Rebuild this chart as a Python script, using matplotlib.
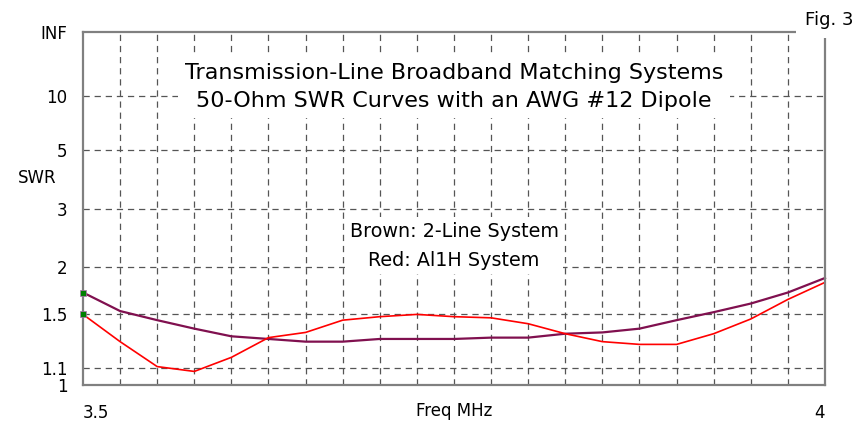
import numpy as np
import matplotlib
matplotlib.use("Agg")
import matplotlib.pyplot as plt

# frequency points, MHz (every 0.025 MHz)
freq = [3.500, 3.525, 3.550, 3.575, 3.600, 3.625, 3.650, 3.675, 3.700, 3.725, 3.750,
        3.775, 3.800, 3.825, 3.850, 3.875, 3.900, 3.925, 3.950, 3.975, 4.000]

# SWR
swr_brown = [1.71, 1.53, 1.45, 1.38, 1.32, 1.30, 1.28, 1.28, 1.30, 1.30, 1.30,
             1.31, 1.31, 1.34, 1.35, 1.38, 1.45, 1.52, 1.60, 1.71, 1.87]
swr_red = [1.50, 1.28, 1.11, 1.08, 1.17, 1.31, 1.35, 1.45, 1.48, 1.50, 1.48,
           1.47, 1.42, 1.34, 1.28, 1.26, 1.26, 1.34, 1.46, 1.64, 1.82]

swr_ticks = [1, 1.1, 1.5, 2, 3, 5, 10]
swr_tick_labels = ["1", "1.1", "1.5", "2", "3", "5", "10", "INF"]
x_tick_labels = {3.5: "3.5", 4.0: "4"}

title_lines = ["Transmission-Line Broadband Matching Systems",
               "50-Ohm SWR Curves with an AWG #12 Dipole"]
legend_lines = ["Brown: 2-Line System", "Red: Al1H System"]


def rho(s):
    # SWR scale is linear in reflection coefficient
    s = np.asarray(s, dtype=float)
    return (s - 1) / (s + 1)


plt.rcParams["font.family"] = "DejaVu Sans"
plt.rcParams["lines.scale_dashes"] = False

fig = plt.figure(figsize=(8.64, 4.24), dpi=100)
ax = fig.add_axes([83 / 864, 1 - 385 / 424, 742 / 864, 353 / 424])

grid_col = "#555555"
dash = (0, (4.5, 3.5))

# grid
xgrid = np.arange(3.5, 4.0001, 0.025)
for xv in xgrid[1:-1]:
    ax.axvline(xv, color=grid_col, lw=0.9, linestyle=dash, zorder=1)
for sv in swr_ticks[1:]:
    ax.axhline(rho(sv), color=grid_col, lw=0.9, linestyle=dash, zorder=1)

ax.plot(freq, rho(swr_brown), color="#80104f", lw=1.6, zorder=3, clip_on=False)
ax.plot(freq, rho(swr_red), color="#ff0000", lw=1.2, zorder=4, clip_on=False)
ax.plot([freq[0], freq[0]], [rho(swr_brown[0]), rho(swr_red[0])], linestyle="none",
        marker="s", ms=5, mfc="#008000", mec="#b070b0", mew=0.5, zorder=8, clip_on=False)

ax.set_xlim(3.5, 4.0)
ax.set_ylim(0, 1)

yt = list(rho(swr_ticks)) + [1.0]
ax.set_yticks(yt)
ax.set_yticklabels(swr_tick_labels)
ax.set_xticks(list(x_tick_labels.keys()))
ax.set_xticklabels(list(x_tick_labels.values()))
xl = ax.get_xticklabels()
xl[0].set_ha("left")
xl[-1].set_ha("right")
ax.tick_params(axis="y", length=0, pad=11, labelsize=12)
ax.tick_params(axis="x", length=0, pad=14, labelsize=12)

for sp in ax.spines.values():
    sp.set_color("#808080")
    sp.set_linewidth(1.6)
    sp.set_zorder(6)

ax.set_xlabel("Freq MHz", fontsize=12, labelpad=-15)
fig.text(37 / 864, 1 - 178 / 424, "SWR", fontsize=12, ha="center", va="center")

ax.text(0.5, 0.844, "\n".join(title_lines), transform=ax.transAxes, ha="center",
        va="center", fontsize=16, linespacing=1.55, zorder=7,
        bbox=dict(boxstyle="square,pad=0.3", fc="white", ec="none"))
ax.text(0.5, 0.394, "\n".join(legend_lines), transform=ax.transAxes, ha="center",
        va="center", fontsize=13.8, linespacing=1.62, zorder=7,
        bbox=dict(boxstyle="square,pad=0.25", fc="white", ec="none"))

fig.text(829 / 864, 1 - 20 / 424, "Fig. 3", fontsize=13, ha="center", va="center",
         zorder=10, bbox=dict(boxstyle="square,pad=0.5", fc="white", ec="none"))

fig.savefig("out.png", dpi=100, facecolor="white")
